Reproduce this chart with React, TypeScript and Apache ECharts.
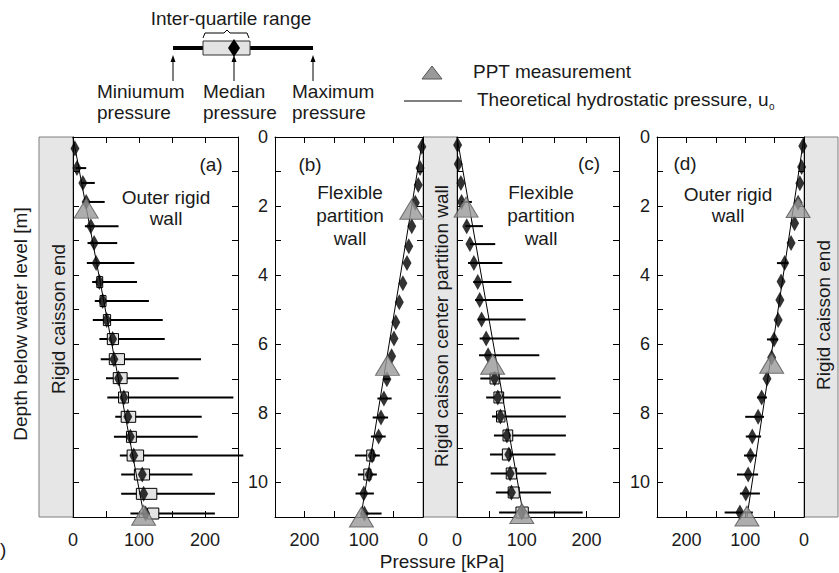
import React, { useEffect, useRef } from 'react';
import * as echarts from 'echarts';

const FONT = '"Liberation Sans", Arial, Helvetica, sans-serif';
const TXT = '#1a1a1a';

// ---------- Panel (a): outer rigid wall ----------
const A_DEPTH = [0.33, 0.9, 1.33, 1.88, 2.58, 3.07, 3.65, 4.2, 4.75, 5.3, 5.85, 6.43, 6.98, 7.54, 8.1, 8.68, 9.22, 9.77, 10.33, 10.9];
const A_MIN = [null, 4, 12, 15, 18, 22, 21, 29, 33, 30, 40, 42, 50, 52, 64, 62, 71, 73, 73, 87];
const A_Q1 = [null, null, null, null, null, null, null, 36, 41, 46, 52, 55, 61, 69, 73, 81, 82, 93, 96, 113];
const A_MED = [3, 6, 15, 20, 27, 32, 35, 40, 45, 51, 60, 62, 69, 77, 83, 87, 92, 105, 107, 110];
const A_Q3 = [null, null, null, null, null, null, null, 45, 50, 57, 69, 78, 82, 84, 95, 96, 107, 116, 127, 130];
const A_MAX = [null, 20, 33, 48, 69, 67, 93, 97, 115, 136, 139, 194, 160, 243, 195, 189, 258, 181, 215, 215];
const A_PPT_DEPTH = [2.06, 10.95];
const A_PPT = [20, 107];
const A_THEORY_DEPTH = [0, 11];
const A_THEORY = [0, 108];

// ---------- Panel (b): flexible partition wall ----------
const B_DEPTH = [0.28, 0.9, 1.39, 1.9, 2.58, 3.16, 3.65, 4.23, 4.78, 5.36, 5.83, 6.35, 7.01, 7.57, 8.12, 8.67, 9.22, 9.77, 10.32, 10.9];
const B_MIN = [null, null, null, null, null, null, null, null, null, null, null, null, 56, 53, 59, 63, 73, 78, 83, 70];
const B_Q1 = [null, null, null, null, null, null, null, null, null, null, null, null, null, null, null, null, 83, 88, null, null];
const B_MED = [2, 5, 8, 13, 19, 24, 27, 34, 40, 46, 49, 53, 61, 66, 71, 75, 86, 91, 100, 99];
const B_Q3 = [null, null, null, null, null, null, null, null, null, null, null, null, null, null, null, null, 95, 100, null, null];
const B_MAX = [null, null, null, null, null, null, null, null, null, null, null, null, 66, 77, 85, 88, 115, 110, 114, 102];
const B_PPT_DEPTH = [2.09, 6.61, 11.0];
const B_PPT = [19, 60, 104];
const B_THEORY_DEPTH = [0, 11];
const B_THEORY = [0, 105];

// ---------- Panel (c): flexible partition wall ----------
const C_DEPTH = [0.23, 0.78, 1.33, 1.88, 2.58, 3.1, 3.65, 4.2, 4.72, 5.28, 5.83, 6.32, 6.99, 7.54, 8.09, 8.64, 9.19, 9.74, 10.29, 10.87];
const C_MIN = [null, null, null, 7, 13, 20, 17, 25, 28, 32, 35, 34, 36, 45, 54, 57, 51, 52, 60, 65];
const C_Q1 = [null, null, null, null, null, null, null, null, null, null, null, null, 51, 57, 61, 71, 70, 76, 79, 91];
const C_MED = [1, 2, 6, 7, 15, 20, 26, 32, 35, 38, 45, 48, 58, 63, 67, 77, 80, 82, 84, 100];
const C_Q3 = [null, null, null, null, null, null, null, null, null, null, null, null, 65, 72, 74, 86, 82, 92, 96, 110];
const C_MAX = [null, null, null, 23, 40, 59, 70, 84, 102, 106, 96, 127, 152, 160, 168, 168, 152, 138, 145, 194];
const C_PPT_DEPTH = [2.03, 6.58, 10.9];
const C_PPT = [14, 55, 100];
const C_THEORY_DEPTH = [0, 11];
const C_THEORY = [0, 103];

// ---------- Panel (d): outer rigid wall ----------
const D_DEPTH = [0.26, 0.87, 1.34, 1.9, 2.5, 3.07, 3.65, 4.18, 4.72, 5.3, 5.86, 6.38, 7.0, 7.54, 8.1, 8.67, 9.22, 9.77, 10.32, 10.87];
const D_MIN = [null, null, null, null, null, null, 27, null, null, null, 44, null, null, 63, 68, 73, 80, 78, 75, 87];
const D_Q1 = [null, null, null, null, null, null, null, null, null, null, null, null, null, null, null, null, null, null, null, null];
const D_MED = [2, 4, 7, 10, 16, 22, 33, 39, 41, 44, 51, 55, 63, 72, 78, 88, 91, 95, 99, 109];
const D_Q3 = [null, null, null, null, null, null, null, null, null, null, null, null, null, null, null, null, null, null, null, null];
const D_MAX = [null, null, null, null, null, null, 46, null, null, null, 63, null, null, 80, 100, 99, 102, 114, 109, 135];
const D_PPT_DEPTH = [2.04, 6.55, 10.97];
const D_PPT = [10, 55, 97];
const D_THEORY_DEPTH = [0, 11];
const D_THEORY = [0, 97];

// Axis ranges / tick settings
const P_MAX = 250;
const P_STEP = 50;
const DEPTH_MAX = 11;
const DEPTH_STEP = 1;

const PANELS = [
  { depth: A_DEPTH, min: A_MIN, q1: A_Q1, med: A_MED, q3: A_Q3, max: A_MAX, pd: A_PPT_DEPTH, pp: A_PPT, td: A_THEORY_DEPTH, tp: A_THEORY },
  { depth: B_DEPTH, min: B_MIN, q1: B_Q1, med: B_MED, q3: B_Q3, max: B_MAX, pd: B_PPT_DEPTH, pp: B_PPT, td: B_THEORY_DEPTH, tp: B_THEORY },
  { depth: C_DEPTH, min: C_MIN, q1: C_Q1, med: C_MED, q3: C_Q3, max: C_MAX, pd: C_PPT_DEPTH, pp: C_PPT, td: C_THEORY_DEPTH, tp: C_THEORY },
  { depth: D_DEPTH, min: D_MIN, q1: D_Q1, med: D_MED, q3: D_Q3, max: D_MAX, pd: D_PPT_DEPTH, pp: D_PPT, td: D_THEORY_DEPTH, tp: D_THEORY },
];

const GRID_LAYOUT = [
  { left: 73, width: 165, inverse: false, yLabels: false },
  { left: 275, width: 148, inverse: true, yLabels: true },
  { left: 457, width: 162, inverse: false, yLabels: false },
  { left: 657, width: 147, inverse: true, yLabels: true },
];
const GRID_TOP = 137;
const GRID_H = 380;

function txt(text: string, x: number, y: number, opts: any = {}) {
  return {
    type: 'text',
    x,
    y,
    rotation: opts.rotation || 0,
    z: 50,
    style: {
      text,
      fill: TXT,
      fontSize: opts.size || 19,
      fontFamily: FONT,
      align: opts.align || 'center',
      verticalAlign: 'middle',
      lineHeight: opts.lh || undefined,
    },
  };
}

export default function App() {
  const ref = useRef<HTMLDivElement>(null);

  useEffect(() => {
    const chart = echarts.init(ref.current!, null, { renderer: 'svg' });

    const grids: any[] = [];
    const xAxes: any[] = [];
    const yAxes: any[] = [];
    const series: any[] = [];

    const axisLine = { show: true, onZero: false, lineStyle: { color: '#000', width: 1 } };
    const axisTick = { show: true, inside: true, length: 6, lineStyle: { color: '#000', width: 1 } };

    GRID_LAYOUT.forEach((g, i) => {
      grids.push({ left: g.left, top: GRID_TOP, width: g.width, height: GRID_H, containLabel: false });
      const xBase = {
        gridIndex: i, type: 'value', min: 0, max: P_MAX, interval: P_STEP, inverse: g.inverse,
        axisLine, axisTick, splitLine: { show: false },
      };
      xAxes.push({
        ...xBase, position: 'bottom',
        axisLabel: {
          show: true, margin: 16, fontSize: 18, lineHeight: 14, fontFamily: FONT, color: TXT,
          showMaxLabel: false,
          formatter: (v: number) => (v % 100 === 0 ? String(v) : ''),
        },
      });
      xAxes.push({ ...xBase, position: 'top', axisLabel: { show: false } });
      const yBase = {
        gridIndex: i, type: 'value', min: 0, max: DEPTH_MAX, interval: DEPTH_STEP, inverse: true,
        axisLine, axisTick, splitLine: { show: false },
      };
      yAxes.push({
        ...yBase, position: 'left',
        axisLabel: {
          show: g.yLabels, margin: 7, fontSize: 18, fontFamily: FONT, color: TXT,
          formatter: (v: number) => (v % 2 === 0 ? String(v) : ''),
        },
      });
      yAxes.push({ ...yBase, position: 'right', axisLabel: { show: false } });

      const p = PANELS[i];
      const whisker: any[] = [];
      const boxes: any[] = [];
      const meds: any[] = [];
      p.depth.forEach((d, k) => {
        if (p.min[k] != null && p.max[k] != null) whisker.push([d, p.min[k], p.max[k]]);
        if (p.q1[k] != null && p.q3[k] != null) boxes.push([d, p.q1[k], p.q3[k]]);
        meds.push([p.med[k], d]);
      });
      const ax = { xAxisIndex: 2 * i, yAxisIndex: 2 * i };

      series.push({
        type: 'custom', ...ax, z: 3, clip: false,
        encode: { x: [1, 2], y: 0 },
        data: whisker,
        renderItem: (params: any, api: any) => {
          const a = api.coord([api.value(1), api.value(0)]);
          const b = api.coord([api.value(2), api.value(0)]);
          return {
            type: 'line',
            shape: { x1: a[0], y1: a[1], x2: b[0], y2: b[1] },
            style: { stroke: '#000', lineWidth: 2 },
          };
        },
      });
      series.push({
        type: 'custom', ...ax, z: 4, clip: false,
        encode: { x: [1, 2], y: 0 },
        data: boxes,
        renderItem: (params: any, api: any) => {
          const a = api.coord([api.value(1), api.value(0)]);
          const b = api.coord([api.value(2), api.value(0)]);
          const x0 = Math.min(a[0], b[0]);
          return {
            type: 'rect',
            shape: { x: x0, y: a[1] - 5.5, width: Math.abs(b[0] - a[0]), height: 11 },
            style: { fill: '#e3e3e3', stroke: '#000', lineWidth: 1 },
          };
        },
      });
      series.push({
        type: 'line', ...ax, z: 5, clip: false, symbol: 'none', silent: true,
        data: p.td.map((d, k) => [p.tp[k], d]),
        lineStyle: { color: '#000', width: 1 },
      });
      series.push({
        type: 'scatter', ...ax, z: 6, clip: false,
        symbol: 'diamond', symbolSize: [9, 16],
        itemStyle: { color: '#000' },
        data: meds,
      });
      series.push({
        type: 'scatter', ...ax, z: 7, clip: false,
        symbol: 'triangle', symbolSize: [24, 20],
        itemStyle: { color: '#999999', borderColor: '#555', borderWidth: 1 },
        data: p.pd.map((d, k) => [p.pp[k], d]),
      });
    });

    // measure for subscript placement
    const cv = document.createElement('canvas').getContext('2d')!;
    cv.font = '19px "Liberation Sans", Arial, sans-serif';
    const theoText = 'Theoretical hydrostatic pressure, u';
    const theoW = cv.measureText(theoText).width;

    const wallStyle = { fill: '#e6e6e6', stroke: '#7f7f7f', lineWidth: 1 };
    const arrow = (x: number) => [
      { type: 'line', z: 50, shape: { x1: x, y1: 81, x2: x, y2: 60 }, style: { stroke: '#000', lineWidth: 1 } },
      { type: 'polygon', z: 50, shape: { points: [[x, 55], [x - 2.5, 62], [x + 2.5, 62]] }, style: { fill: '#000' } },
    ];

    const graphic: any[] = [
      // walls
      { type: 'rect', z: -1, shape: { x: 39, y: GRID_TOP, width: 34, height: GRID_H }, style: wallStyle },
      { type: 'rect', z: -1, shape: { x: 423, y: GRID_TOP, width: 34, height: GRID_H }, style: wallStyle },
      { type: 'rect', z: -1, shape: { x: 804, y: GRID_TOP, width: 34, height: GRID_H }, style: wallStyle },
      txt('Rigid caisson end', 58, 319, { rotation: Math.PI / 2 }),
      txt('Rigid caisson center partition wall', 441, 326, { rotation: Math.PI / 2 }),
      txt('Rigid caisson end', 823, 315, { rotation: Math.PI / 2 }),
      // panel annotations
      txt('(a)', 211, 164), txt('Outer rigid', 166, 197), txt('wall', 166, 218),
      txt('(b)', 310, 164), txt('Flexible', 350, 192), txt('partition', 350, 215), txt('wall', 350, 238),
      txt('(c)', 589, 163), txt('Flexible', 541, 192), txt('partition', 541, 215), txt('wall', 541, 238),
      txt('(d)', 685, 163), txt('Outer rigid', 728, 194), txt('wall', 728, 215),
      // axis titles
      txt('Depth below water level [m]', 20, 324, { rotation: Math.PI / 2 }),
      txt('Pressure [kPa]', 442, 561, { lh: 18 }),
      txt(')', 0, 549, { align: 'left' }),
      // box-plot key
      txt('Inter-quartile range', 231, 18),
      {
        type: 'polyline', z: 50,
        shape: { points: [[203, 38], [205, 33], [224, 33], [227, 30], [230, 33], [247, 33], [249, 38]] },
        style: { stroke: '#000', lineWidth: 1, fill: null },
      },
      { type: 'line', z: 50, shape: { x1: 173, y1: 48, x2: 313, y2: 48 }, style: { stroke: '#000', lineWidth: 4 } },
      { type: 'rect', z: 51, shape: { x: 203, y: 41, width: 47, height: 14 }, style: { fill: '#e3e3e3', stroke: '#333', lineWidth: 1 } },
      { type: 'polygon', z: 52, shape: { points: [[234, 39], [240, 48], [234, 57], [228, 48]] }, style: { fill: '#000' } },
      ...arrow(173), ...arrow(234), ...arrow(313),
      txt('Miniumum', 97, 91, { align: 'left' }), txt('pressure', 97, 112, { align: 'left' }),
      txt('Median', 203, 91, { align: 'left' }), txt('pressure', 203, 112, { align: 'left' }),
      txt('Maximum', 292, 91, { align: 'left' }), txt('pressure', 292, 112, { align: 'left' }),
      // symbol legend
      { type: 'polygon', z: 50, shape: { points: [[432, 66], [442, 79], [422, 79]] }, style: { fill: '#999999', stroke: '#555', lineWidth: 1 } },
      txt('PPT measurement', 473, 71, { align: 'left' }),
      { type: 'line', z: 50, shape: { x1: 404, y1: 101, x2: 462, y2: 101 }, style: { stroke: '#000', lineWidth: 1 } },
      txt(theoText, 477, 99, { align: 'left' }),
      txt('o', 477 + theoW + 0.5, 106, { align: 'left', size: 10 }),
    ];

    chart.setOption({
      animation: false,
      backgroundColor: '#fff',
      grid: grids,
      xAxis: xAxes,
      yAxis: yAxes,
      series,
      graphic,
    });

    return () => chart.dispose();
  }, []);

  return (
    <div
      ref={ref}
      style={{ position: 'fixed', left: 0, top: 0, width: 839, height: 573, background: '#fff' }}
    />
  );
}
